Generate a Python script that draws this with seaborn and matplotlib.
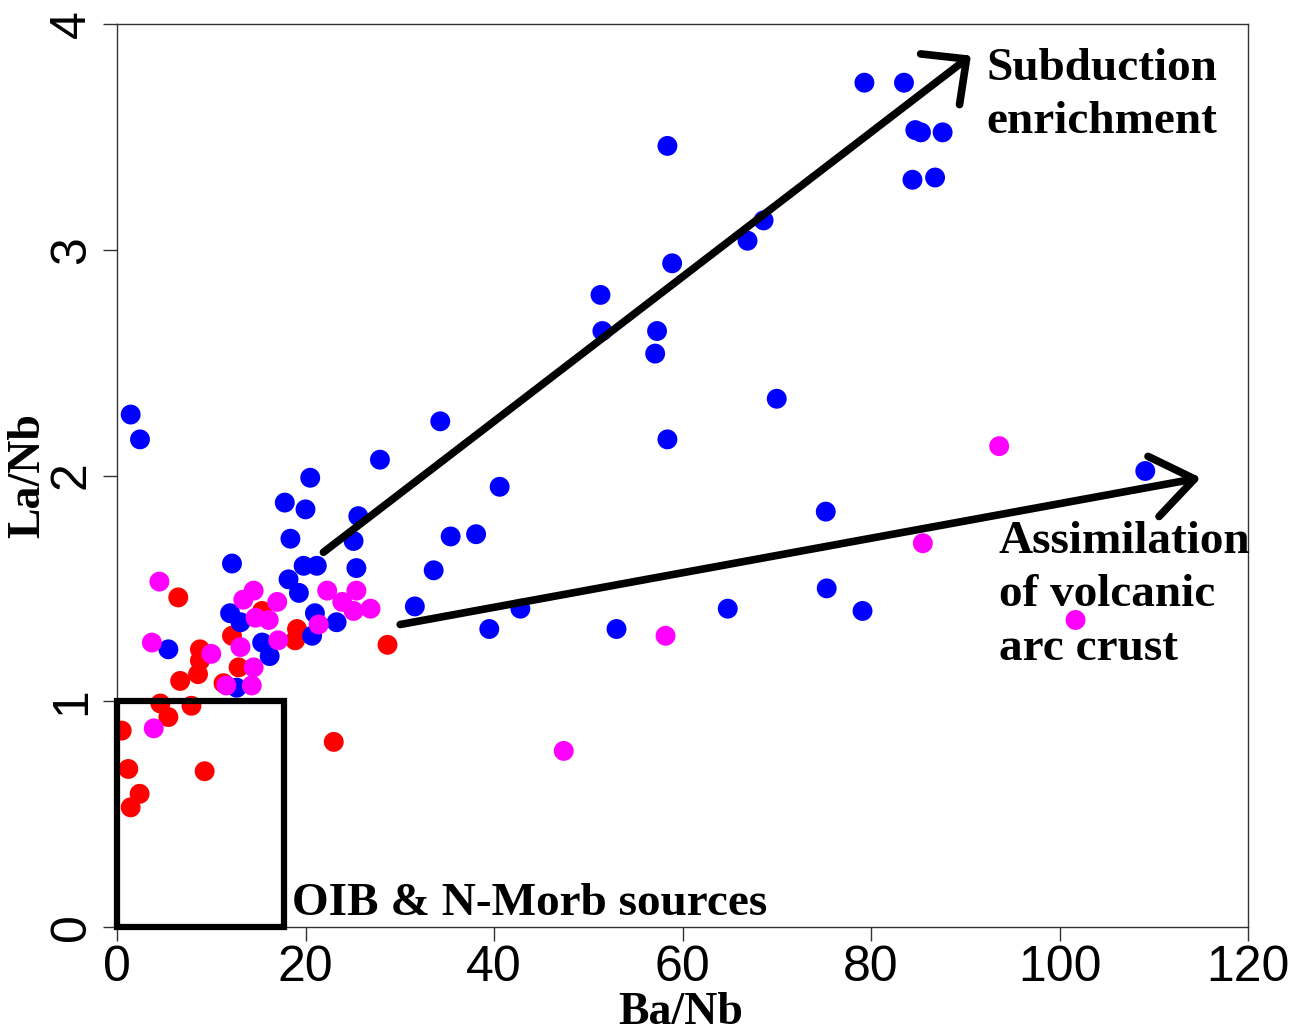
import matplotlib
matplotlib.use("Agg")
import matplotlib.pyplot as plt
from matplotlib import font_manager
from matplotlib.patches import Rectangle
import numpy as np
import pandas as pd
import seaborn as sns

# Ba/Nb and La/Nb ratios for the three sample suites
suite_a_ba_nb = [6.5, 15.4, 28.7, 12.2, 19.1, 18.9, 8.8, 8.8, 8.6, 6.7, 12.9, 11.3,
                 4.6, 5.45, 7.9, 0.5, 1.2, 9.3, 2.4, 1.45, 23.0]
suite_a_la_nb = [1.46, 1.40, 1.25, 1.29, 1.32, 1.27, 1.23, 1.18, 1.12, 1.09, 1.15, 1.08,
                 0.99, 0.93, 0.98, 0.87, 0.70, 0.69, 0.59, 0.53, 0.82]

suite_b_ba_nb = [1.45, 2.44, 27.9, 20.5, 17.8, 20.0, 25.6, 18.4, 25.1, 12.2, 19.8, 21.2,
                 25.4, 18.2, 19.3, 12.0, 13.1, 21.0, 23.3, 20.7, 15.4, 16.2, 5.45, 12.7,
                 34.3, 58.4, 70.0, 40.6, 75.2, 35.4, 38.1, 33.6, 31.6, 42.8, 39.5, 53.0,
                 64.8, 75.3, 79.1, 109.1,
                 79.3, 83.5, 84.7, 85.3, 87.6, 84.4, 86.8, 58.4, 68.6, 66.9, 58.9, 51.3,
                 51.5, 57.3, 57.1]
suite_b_la_nb = [2.27, 2.16, 2.07, 1.99, 1.88, 1.85, 1.82, 1.72, 1.71, 1.61, 1.60, 1.60,
                 1.59, 1.54, 1.48, 1.39, 1.35, 1.39, 1.35, 1.29, 1.26, 1.20, 1.23, 1.06,
                 2.24, 2.16, 2.34, 1.95, 1.84, 1.73, 1.74, 1.58, 1.42, 1.41, 1.32, 1.32,
                 1.41, 1.50, 1.40, 2.02,
                 3.74, 3.74, 3.53, 3.52, 3.52, 3.31, 3.32, 3.46, 3.13, 3.04, 2.94, 2.80,
                 2.64, 2.64, 2.54]

suite_c_ba_nb = [4.5, 3.7, 10.0, 14.5, 13.4, 17.0, 22.3, 23.9, 25.4, 25.1, 26.9, 14.7,
                 16.1, 17.1, 21.4, 13.1, 14.5, 14.3, 11.6, 3.9, 58.2, 47.4, 93.6, 85.5,
                 101.7]
suite_c_la_nb = [1.53, 1.26, 1.21, 1.49, 1.45, 1.44, 1.49, 1.44, 1.49, 1.40, 1.41, 1.37,
                 1.36, 1.27, 1.34, 1.24, 1.15, 1.07, 1.07, 0.88, 1.29, 0.78, 2.13, 1.70,
                 1.36]

suite_names = ["Suite A", "Suite B", "Suite C"]
suite_colors = ["#ff0000", "#0000ff", "#ff00ff"]

# trend arrows: (tail Ba/Nb, tail La/Nb, tip Ba/Nb, tip La/Nb)
subduction_arrow = (21.9, 1.66, 90.6, 3.86)
assimilation_arrow = (30.05, 1.34, 115.0, 1.99)
# source field: Ba/Nb 0-17.7, La/Nb 0-1
source_box = (0.0, 0.0, 17.7, 1.0)

x_ticks = [0, 20, 40, 60, 80, 100, 120]
y_ticks = [0, 1, 2, 3, 4]

df = pd.DataFrame({
    "Ba/Nb": suite_a_ba_nb + suite_b_ba_nb + suite_c_ba_nb,
    "La/Nb": suite_a_la_nb + suite_b_la_nb + suite_c_la_nb,
    "suite": ([suite_names[0]] * len(suite_a_ba_nb)
              + [suite_names[1]] * len(suite_b_ba_nb)
              + [suite_names[2]] * len(suite_c_ba_nb)),
})

sns.set_style("ticks")


def pick_font(candidates):
    for name in candidates:
        try:
            font_manager.findfont(name, fallback_to_default=False)
            return name
        except Exception:
            continue
    return "DejaVu Sans"


tick_font = pick_font(["Liberation Sans Narrow", "Liberation Sans", "DejaVu Sans"])
label_font = pick_font(["Liberation Serif", "DejaVu Serif"])
plt.rcParams["font.family"] = [tick_font, "DejaVu Sans"]

fig = plt.figure(figsize=(13.01, 10.35), dpi=100)
ax = fig.add_axes([117 / 1301, 1 - 927 / 1035, 1131 / 1301, 903 / 1035])

sns.scatterplot(data=df, x="Ba/Nb", y="La/Nb", hue="suite",
                palette=dict(zip(suite_names, suite_colors)),
                s=205, linewidth=0, legend=False, ax=ax, zorder=3)

ax.set_xlim(0, 120)
ax.set_ylim(0, 4)
ax.set_xticks(x_ticks)
ax.set_yticks(y_ticks)
ax.set_xticklabels([str(v) for v in x_ticks])
ax.set_yticklabels([str(v) for v in y_ticks], rotation=90, va="center")

for sp in ax.spines.values():
    sp.set_color("#333333")
    sp.set_linewidth(1.0)
    sp.set_visible(True)

ax.tick_params(axis="both", direction="out", length=10, width=1.0,
               color="#333333", labelsize=36, labelcolor="black")
ax.tick_params(axis="x", pad=3)
ax.tick_params(axis="y", pad=6)

label_kw = dict(family=label_font, fontweight="bold", fontsize=33, color="black")
ax.set_xlabel("Ba/Nb", **label_kw)
ax.set_ylabel("La/Nb", **label_kw)
ax.xaxis.set_label_coords(0.498, -0.072)
ax.yaxis.set_label_coords(-0.060, 0.5)

# source rectangle
bx, by, bw, bh = source_box
ax.add_patch(Rectangle((bx, by), bw, bh, fill=False, edgecolor="black",
                       linewidth=4.5, clip_on=False, zorder=4))

# trend arrows
for (x0, y0, x1, y1), hl, hw in [(subduction_arrow, 2.4, 2.3),
                                 (assimilation_arrow, 3.0, 2.2)]:
    ax.annotate("", xy=(x1, y1), xytext=(x0, y0),
                arrowprops=dict(arrowstyle=f"->,head_length={hl},head_width={hw}",
                                lw=5.5, color="black", shrinkA=0, shrinkB=0,
                                mutation_scale=10, capstyle="round",
                                joinstyle="round"),
                annotation_clip=False, zorder=5)

text_kw = dict(family=label_font, fontweight="bold", fontsize=34,
               color="black", ha="left", va="baseline", zorder=6)
ax.text(92.2, 3.752, "Subduction", **text_kw)
ax.text(92.2, 3.517, "enrichment", **text_kw)
ax.text(93.55, 1.656, "Assimilation", **text_kw)
ax.text(93.55, 1.422, "of volcanic", **text_kw)
ax.text(93.55, 1.183, "arc crust", **text_kw)
ax.text(18.6, 0.053, "OIB & N-Morb sources", **text_kw)

fig.savefig("out.png", dpi=100, facecolor="white")
